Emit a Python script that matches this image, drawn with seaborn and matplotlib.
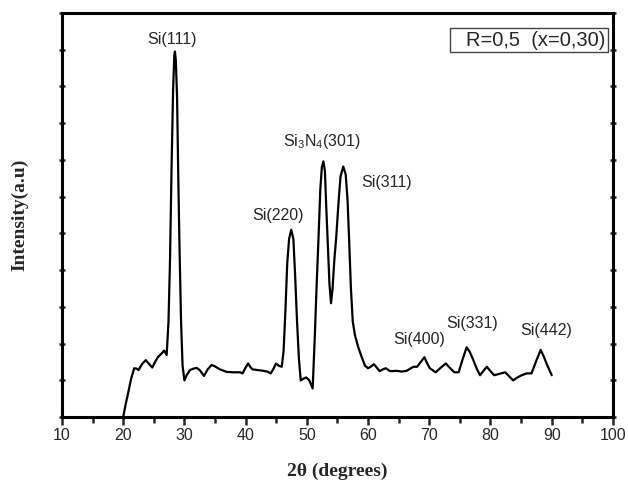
import numpy as np
import pandas as pd
import seaborn as sns
import matplotlib
matplotlib.use("Agg")
import matplotlib.pyplot as plt
from matplotlib.patches import Rectangle
from matplotlib.ticker import MultipleLocator

# XRD pattern, 2-theta (degrees) vs intensity (arbitrary units)
two_theta = [
    20.0, 20.4, 20.8, 21.3, 21.8, 22.2, 22.5, 23.1, 23.7, 24.2, 24.75, 25.2, 25.7,
    26.2, 26.7, 27.1,
    27.4, 27.65, 27.9, 28.15, 28.35, 28.45, 28.6, 28.8, 29.0, 29.2, 29.45, 29.7,
    30.0, 30.4, 30.9, 31.5, 32.0, 32.5, 33.2, 33.8, 34.45, 35.0, 35.8, 36.9, 38.0,
    39.1, 39.5, 40.0, 40.4, 40.8, 41.1, 42.0, 42.9, 43.5, 44.1, 44.5, 44.96, 45.4,
    45.9, 46.2, 46.5, 46.8, 47.1, 47.45, 47.8, 48.1, 48.4, 48.7, 49.0, 49.5, 49.9,
    50.4, 50.95, 51.3, 51.6, 51.9, 52.2, 52.45, 52.7, 52.95, 53.15, 53.4, 53.7,
    53.95, 54.2, 54.5, 54.8, 55.2, 55.5, 55.95, 56.35, 56.65, 56.9, 57.2, 57.5,
    57.86, 58.4, 58.95, 59.5, 60.0, 60.5, 60.96, 61.4, 61.9, 62.4, 62.9, 63.6,
    64.7, 65.5, 66.3, 67.4, 68.0, 68.6, 69.2, 69.7, 70.1, 71.05, 71.9, 72.7, 73.3,
    74.1, 74.8, 75.4, 76.1, 76.6, 77.2, 77.8, 78.3, 78.8, 79.4, 80.0, 80.6, 81.5,
    82.4, 83.0, 83.7, 84.4, 85.1, 85.9, 86.7, 87.4, 88.2, 88.7, 89.3, 90.0,
]
intensity = [
    0.0, 0.35, 0.65, 1.05, 1.33, 1.32, 1.28, 1.45, 1.55, 1.45, 1.35, 1.5, 1.64,
    1.72, 1.81, 1.69,
    2.6, 4.3, 6.8, 8.9, 9.85, 9.95, 9.7, 8.7, 6.5, 4.6, 2.6, 1.4,
    1.0, 1.15, 1.28, 1.32, 1.34, 1.28, 1.12, 1.3, 1.42, 1.38, 1.3, 1.23, 1.22,
    1.22, 1.19, 1.35, 1.46, 1.36, 1.3, 1.28, 1.26, 1.24, 1.19, 1.3, 1.46, 1.40,
    1.37, 1.8, 2.9, 4.2, 4.85, 5.1, 4.85, 3.8, 2.6, 1.6, 1.0, 1.05, 1.08,
    1.0, 0.78, 2.2, 3.6, 4.85, 6.2, 6.8, 6.96, 6.7, 5.8, 4.8, 3.6,
    3.1, 3.5, 4.3, 4.9, 5.9, 6.55, 6.82, 6.6, 5.9, 4.85, 3.5, 2.6,
    2.23, 1.9, 1.64, 1.4, 1.33, 1.38, 1.44, 1.35, 1.25, 1.3, 1.33, 1.25,
    1.26, 1.24, 1.26, 1.37, 1.37, 1.5, 1.63, 1.45, 1.33, 1.22, 1.35, 1.46, 1.35,
    1.22, 1.22, 1.55, 1.90, 1.78, 1.55, 1.3, 1.14, 1.25, 1.37, 1.25, 1.14, 1.18,
    1.22, 1.12, 1.0, 1.08, 1.14, 1.19, 1.19, 1.5, 1.83, 1.65, 1.4, 1.14,
]

# Reflection labels and where they sit
peak_labels = ["Si(111)", "Si(220)", r"Si$_3$N$_4$(301)", "Si(311)",
               "Si(400)", "Si(331)", "Si(442)"]
label_x = [27.9, 45.35, 52.5, 63.0, 68.3, 77.0, 89.1]
label_y = [10.27, 5.5, 7.49, 6.38, 2.12, 2.55, 2.35]

sample_label = "R=0,5  (x=0,30)"
x_ticks = [10, 20, 30, 40, 50, 60, 70, 80, 90, 100]

sns.set_style("ticks")
plt.rcParams["font.family"] = ["Liberation Sans", "DejaVu Sans"]
plt.rcParams["mathtext.fontset"] = "custom"
plt.rcParams["mathtext.rm"] = "Liberation Sans"
plt.rcParams["mathtext.it"] = "Liberation Sans"

df = pd.DataFrame({"two_theta": two_theta, "intensity": intensity})

fig = plt.figure(figsize=(6.28, 4.80), dpi=100)
ax = fig.add_axes([0.0987, 0.131, 0.8773, 0.842])

sns.lineplot(data=df, x="two_theta", y="intensity", color="black",
             linewidth=1.6, ax=ax, legend=False)
ax.lines[0].set_solid_joinstyle("round")

ax.set_xlim(10, 100)
ax.set_ylim(0, 11)
ax.set_xticks(x_ticks)
ax.xaxis.set_minor_locator(MultipleLocator(5))
ax.yaxis.set_major_locator(MultipleLocator(1))
ax.set_yticklabels([])

for side in ["left", "right", "top", "bottom"]:
    ax.spines[side].set_visible(True)
    ax.spines[side].set_linewidth(2.2)
    ax.spines[side].set_color("black")

ax.tick_params(axis="x", which="major", direction="out", length=6, width=1.8,
               labelsize=11.5, pad=2, top=False)
ax.tick_params(axis="x", which="minor", direction="out", length=4, width=1.8,
               top=False)
ax.tick_params(axis="y", which="major", direction="inout", length=4, width=1.8,
               left=True, right=True, labelleft=False)

ax.set_xlabel("2θ (degrees)", family=["Liberation Serif", "DejaVu Serif"],
              fontweight="bold", fontsize=14, labelpad=14)
ax.set_ylabel("Intensity(a.u)", family=["Liberation Serif", "DejaVu Serif"],
              fontweight="bold", fontsize=14, labelpad=22)

for txt, lx, ly in zip(peak_labels, label_x, label_y):
    ax.text(lx, ly, txt, ha="center", va="center", fontsize=11.5)

# Sample identification box in the upper right corner
ax.add_patch(Rectangle((0.704, 0.903), 0.287, 0.060, transform=ax.transAxes,
                       facecolor="white", edgecolor="#444444", linewidth=1.0,
                       zorder=5))
ax.text(0.9855, 0.933, sample_label, transform=ax.transAxes, ha="right",
        va="center", fontsize=14.5, zorder=6)

fig.savefig("out.png", dpi=100)
